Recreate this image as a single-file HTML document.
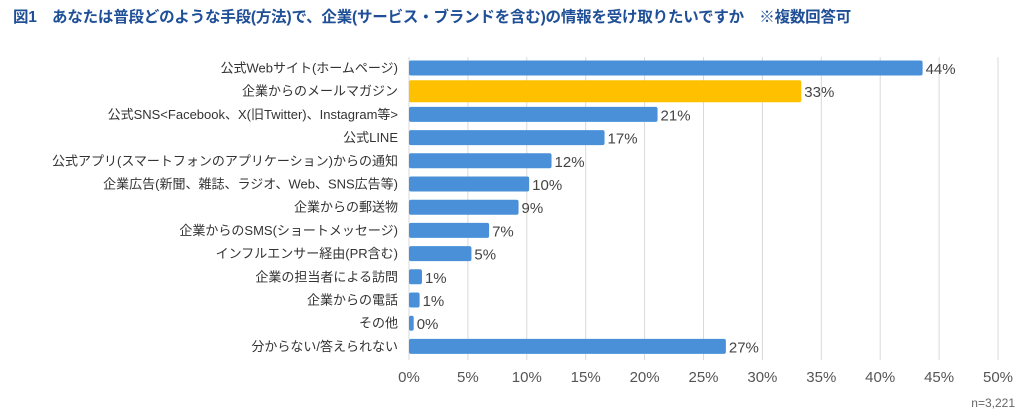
<!DOCTYPE html>
<html><head><meta charset="utf-8"><style>
body{margin:0;background:#fff;width:1024px;height:418px;overflow:hidden;font-family:"Liberation Sans","Noto Sans CJK JP",sans-serif}
#title{position:absolute;left:13px;top:5px;font-size:15.5px;font-weight:bold;color:#1f4f96;white-space:nowrap;letter-spacing:-0.2px}
</style></head><body>
<div id="title">図1　あなたは普段どのような手段(方法)で、企業(サービス・ブランドを含む)の情報を受け取りたいですか　※複数回答可</div>
<svg id="chart" width="1024" height="418" style="position:absolute;left:0;top:0"></svg>
<script>
const categories=["公式Webサイト(ホームページ)","企業からのメールマガジン","公式SNS<Facebook、X(旧Twitter)、Instagram等>","公式LINE","公式アプリ(スマートフォンのアプリケーション)からの通知","企業広告(新聞、雑誌、ラジオ、Web、SNS広告等)","企業からの郵送物","企業からのSMS(ショートメッセージ)","インフルエンサー経由(PR含む)","企業の担当者による訪問","企業からの電話","その他","分からない/答えられない"];
const values=[43.6,33.3,21.1,16.6,12.1,10.2,9.3,6.8,5.3,1.1,0.9,0.4,26.9];
const valueLabels=["44%","33%","21%","17%","12%","10%","9%","7%","5%","1%","1%","0%","27%"];
const highlight=[false,true,false,false,false,false,false,false,false,false,false,false,false];
const ticks=[0,5,10,15,20,25,30,35,40,45,50];
const tickLabels=["0%","5%","10%","15%","20%","25%","30%","35%","40%","45%","50%"];
const NS="http://www.w3.org/2000/svg";
const svg=document.getElementById('chart');
const x0=409,x1=998,xmax=50,y0=68,step=23.2;
const xs=v=>x0+(x1-x0)*v/xmax;
const ys=i=>y0+i*step;
function mk(t,a){const e=document.createElementNS(NS,t);for(const k in a)e.setAttribute(k,a[k]);svg.appendChild(e);return e;}
ticks.forEach((t,i)=>{
 const g=mk('line',{x1:xs(t),x2:xs(t),y1:57,y2:360,stroke:'#d9d9d9','stroke-width':1});
 
 
 const l=mk('text',{x:xs(t),y:382,'text-anchor':'middle','font-size':15,fill:'#555'});
 l.textContent=tickLabels[i];
 
 
});
categories.forEach((c,i)=>{
 const h=highlight[i]?22:15;
 const r=mk('rect',{x:x0,y:ys(i)-h/2,width:xs(values[i])-x0,height:h,rx:2,fill:highlight[i]?'#ffc000':'#4a90d9'});
 
 
 const t=mk('text',{x:398,y:ys(i)+4.5,'text-anchor':'end','font-size':13,fill:'#333'});
 t.textContent=c;
 
 
 const v=mk('text',{x:xs(values[i])+3,y:ys(i)+6,'font-size':15,fill:'#444'});
 v.textContent=valueLabels[i];
 
 
});
const n=mk('text',{x:1015,y:407,'text-anchor':'end','font-size':12,fill:'#666'});
n.textContent="n=3,221";


</script>
</body></html>
